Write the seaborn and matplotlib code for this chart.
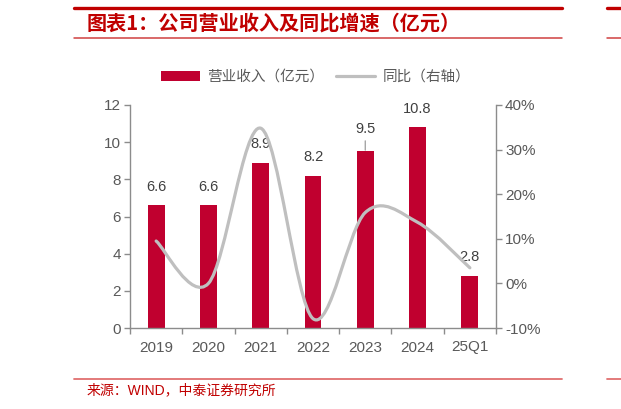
import numpy as np
import pandas as pd
import matplotlib
matplotlib.use("Agg")
import matplotlib.pyplot as plt
import seaborn as sns
from matplotlib.path import Path
from matplotlib.patches import PathPatch, Patch
from matplotlib.lines import Line2D
from matplotlib.ticker import FuncFormatter, FixedLocator

# ---- data ----
categories = ["2019", "2020", "2021", "2022", "2023", "2024", "25Q1"]
revenue = [6.6, 6.6, 8.9, 8.2, 9.5, 10.8, 2.8]          # 亿元
yoy_pct = [9.5, 0.0, 34.8, -7.9, 15.9, 13.7, 3.5]        # %
left_ticks = [0, 2, 4, 6, 8, 10, 12]
right_ticks = [-10, 0, 10, 20, 30, 40]

title = "图表1：公司营业收入及同比增速（亿元）"
legend_labels = ["营业收入（亿元）", "同比（右轴）"]
source = "来源：WIND，中泰证券研究所"

# ---- style ----
sns.set_style("white")
plt.rcParams["font.family"] = ["Liberation Sans", "Noto Sans CJK SC", "DejaVu Sans"]
BAR = "#C0002F"
LINE = "#BFBFBF"
RED = "#C00000"
TXT = "#595959"
AXC = "#8C8C8C"

fig = plt.figure(figsize=(6.21, 4.09), dpi=100)
ax = fig.add_axes([130 / 621, 1 - 328 / 409, 366 / 621, 223 / 409])

df = pd.DataFrame({"cat": categories, "rev": revenue})
sns.barplot(data=df, x="cat", y="rev", color=BAR, width=0.32, ax=ax,
            saturation=1, edgecolor="none")
ax.set_xlim(-0.5, len(categories) - 0.5)
ax.set_ylim(0, 12)
ax.set_xlabel("")
ax.set_ylabel("")
ax.yaxis.set_major_locator(FixedLocator(left_ticks))

for s in ["top", "right"]:
    ax.spines[s].set_visible(False)
for s in ["left", "bottom"]:
    ax.spines[s].set_color(AXC)
    ax.spines[s].set_linewidth(1.0)

ax.tick_params(axis="y", which="major", direction="out", length=4.5, width=1,
               color=AXC, labelcolor=TXT, labelsize=11, pad=2, left=True)
ax.tick_params(axis="x", which="major", length=0, labelcolor=TXT,
               labelsize=11, pad=9)
ax.set_xticks(np.arange(-0.5, len(categories), 1.0), minor=True)
ax.tick_params(axis="x", which="minor", direction="out", length=4.5, width=1,
               color=AXC, bottom=True)

# data labels
for i, v in enumerate(revenue):
    if categories[i] == "2023":
        ax.annotate(f"{v:.1f}", xy=(i, v), xytext=(0, 16), textcoords="offset points",
                    ha="center", va="center", fontsize=10.5, color="#404040",
                    arrowprops=dict(arrowstyle="-", color="#A6A6A6", lw=1,
                                    shrinkA=1, shrinkB=1))
    else:
        ax.annotate(f"{v:.1f}", xy=(i, v), xytext=(0, 13.5), textcoords="offset points",
                    ha="center", va="center", fontsize=10.5, color="#404040")

# right axis with smoothed line
ax2 = ax.twinx()
ax2.set_ylim(-10, 40)
ax2.yaxis.set_major_locator(FixedLocator(right_ticks))
ax2.yaxis.set_major_formatter(FuncFormatter(lambda v, p: f"{v:.0f}%"))
for s in ["top", "left", "bottom"]:
    ax2.spines[s].set_visible(False)
ax2.spines["right"].set_color(AXC)
ax2.spines["right"].set_linewidth(1.0)
ax2.tick_params(axis="y", direction="out", length=4.5, width=1, color=AXC,
                labelcolor=TXT, labelsize=11, pad=2)

xs = np.arange(len(yoy_pct), dtype=float)
ys = np.array(yoy_pct, dtype=float)
pts = np.column_stack([xs, ys])
verts = [tuple(pts[0])]
codes = [Path.MOVETO]
n = len(pts)
for i in range(n - 1):
    p0 = pts[i - 1] if i > 0 else pts[i]
    p1 = pts[i]
    p2 = pts[i + 1]
    p3 = pts[i + 2] if i + 2 < n else pts[i + 1]
    c1 = p1 + (p2 - p0) / 6.0
    c2 = p2 - (p3 - p1) / 6.0
    verts += [tuple(c1), tuple(c2), tuple(p2)]
    codes += [Path.CURVE4, Path.CURVE4, Path.CURVE4]
ax2.add_patch(PathPatch(Path(verts, codes), fill=False, edgecolor=LINE, lw=2.3,
                        capstyle="round", joinstyle="round"))

# legend
handles = [Patch(facecolor=BAR, edgecolor="none"),
           Line2D([0], [0], color=LINE, lw=2.3)]
leg = fig.legend(handles, legend_labels, ncol=2, loc="center",
                 bbox_to_anchor=(0.508, 1 - 77 / 409), frameon=False,
                 fontsize=10.5, handlelength=2.7, handletextpad=0.5,
                 columnspacing=0.8, labelcolor=TXT)

# title frame and source
def hline(x0, x1, y, lw, color):
    fig.add_artist(Line2D([x0 / 621, x1 / 621], [1 - y / 409, 1 - y / 409],
                          transform=fig.transFigure, color=color, lw=lw))

hline(74, 562, 7.5, 2.4, RED)
hline(607, 621, 7.5, 2.4, RED)
hline(74, 562, 37.5, 1.1, "#D04040")
hline(607, 621, 37.5, 1.1, "#D04040")
hline(74, 562, 379, 1.3, "#E07070")
hline(607, 621, 379, 1.3, "#E07070")

fig.text(87 / 621, 1 - 23 / 409, title, fontsize=14.5, fontweight="bold",
         color=RED, ha="left", va="center",
         family=["Noto Sans CJK SC", "DejaVu Sans"])
fig.text(87 / 621, 1 - 390 / 409, source, fontsize=10, color=RED,
         ha="left", va="center", family=["Liberation Sans", "Noto Sans CJK SC"])

fig.savefig("out.png", dpi=100)
